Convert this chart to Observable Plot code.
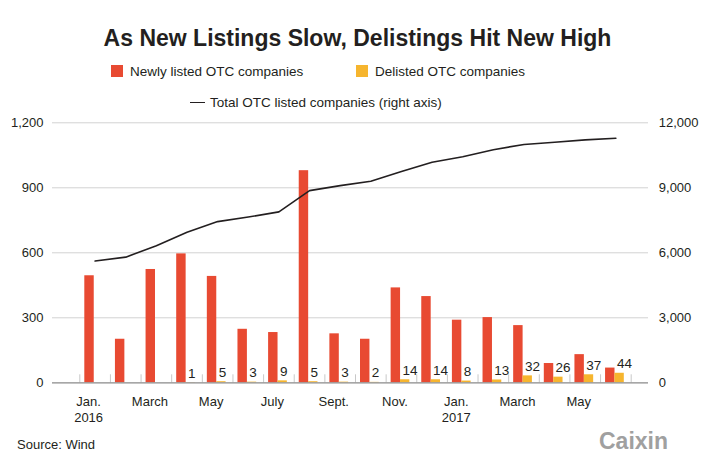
<!DOCTYPE html>
<html><head><meta charset="utf-8">
<script src="https://cdn.jsdelivr.net/npm/d3@7"></script>
<script src="https://cdn.jsdelivr.net/npm/@observablehq/plot@0.6"></script>
<style>
body{margin:0;background:#fff;font-family:"Liberation Sans",Arial,Helvetica,sans-serif;}
#wrap{position:relative;width:705px;height:470px;overflow:hidden;}
#chart{position:absolute;left:0;top:0;}
.abs{position:absolute;white-space:nowrap;line-height:1;color:#231f20;}
.sw{position:absolute;width:11.5px;height:11.5px;}
</style></head><body>
<div id="wrap">
  <div id="chart"></div>
  <div class="abs" style="left:0;width:715px;text-align:center;top:27px;font-size:23px;font-weight:bold;">As New Listings Slow, Delistings Hit New High</div>
  <div class="sw" style="left:111px;top:65px;background:#e84a32;"></div>
  <div class="abs" style="left:130px;top:64.6px;font-size:13.5px;">Newly listed OTC companies</div>
  <div class="sw" style="left:356px;top:65px;background:#f6b52e;"></div>
  <div class="abs" style="left:375px;top:64.6px;font-size:13.5px;">Delisted OTC companies</div>
  <div class="abs" style="left:190px;top:101.5px;width:15px;height:1.6px;background:#231f20;"></div>
  <div class="abs" style="left:210px;top:96px;font-size:13.5px;">Total OTC listed companies (right axis)</div>
  <div class="abs" style="left:17px;top:438.3px;font-size:13px;">Source: Wind</div>
  <div class="abs" style="left:599px;top:430px;font-size:23px;font-weight:bold;color:#a0a0a0;">Caixin</div>
</div>
<script>
// Months Jan. 2016 – June 2017
const months = ["2016-01","2016-02","2016-03","2016-04","2016-05","2016-06","2016-07","2016-08","2016-09","2016-10","2016-11","2016-12","2017-01","2017-02","2017-03","2017-04","2017-05","2017-06"];
const monthLabels = ["Jan.\n2016","","March","","May","","July","","Sept.","","Nov.","","Jan.\n2017","","March","","May",""];
const newlyListed = [494,201,523,595,491,247,232,979,226,201,438,398,289,301,264,89,130,68];
const delisted = [null,null,null,1,5,3,9,5,3,2,14,14,8,13,32,26,37,44];
const totalListed = [5620,5800,6330,6950,7440,7650,7890,8870,9100,9300,9750,10180,10430,10760,11000,11100,11210,11290];
const leftTicks = [0,300,600,900,1200];
const rightTicks = [0,3000,6000,9000,12000];

const RED = "#e84a32", YELLOW = "#f6b52e", INK = "#231f20";
const data = months.map((m,i)=>({i, month:m, label:monthLabels[i], newly:newlyListed[i], delisted:delisted[i], total:totalListed[i]}));
const withDel = data.filter(d=>d.delisted!=null);
const fmt = d3.format(",");

const chart = Plot.plot({
  width:705, height:470,
  marginTop:122.3, marginBottom:87.7, marginLeft:52, marginRight:57,
  x:{type:"linear", domain:[0, months.length], range:[79.3, 630.7], axis:null},
  y:{domain:[0,1200], axis:null},
  style:{fontFamily:"'Liberation Sans', Arial, Helvetica, sans-serif", fontSize:"13px", color:INK, background:"transparent", overflow:"visible"},
  marks:[
    Plot.ruleY(leftTicks.filter(d=>d>0), {stroke:"#d2d2d2", strokeWidth:1}),
    Plot.rectY(data, {x1:"i", x2:d=>d.i+1, y:"newly", fill:RED, insetLeft:5, insetRight:16.2}),
    Plot.rectY(withDel, {x1:"i", x2:d=>d.i+1, y:"delisted", fill:YELLOW, insetLeft:14.4, insetRight:6.9}),
    Plot.tickX(d3.range(months.length+1), {x:d=>d, stroke:"#c8c8c8", insetTop:252}),
    Plot.ruleY([0], {stroke:"#8a8a8a", strokeWidth:1.2}),
    Plot.line(data, {x:d=>d.i+0.5, y:d=>d.total/10, stroke:INK, strokeWidth:1.6}),
    Plot.text(withDel, {x:d=>d.i+0.5, y:"delisted", text:d=>String(d.delisted), textAnchor:"start", lineAnchor:"bottom", dx:1, dy:-5, fontSize:13.5, fill:INK}),
    Plot.text(data.filter(d=>d.label), {x:d=>d.i+0.5, frameAnchor:"bottom", text:"label", lineAnchor:"top", lineHeight:1.2, dx:-6.5, dy:12.4, fontSize:13, fill:INK}),
    Plot.text(leftTicks, {y:d=>d, frameAnchor:"left", text:d=>fmt(d), textAnchor:"end", dx:-9, fontSize:13, fill:INK}),
    Plot.text(rightTicks, {y:d=>d/10, frameAnchor:"right", text:d=>fmt(d), textAnchor:"start", dx:10.3, fontSize:13, fill:INK})
  ]
});
document.getElementById("chart").appendChild(chart);
</script>
</body></html>
